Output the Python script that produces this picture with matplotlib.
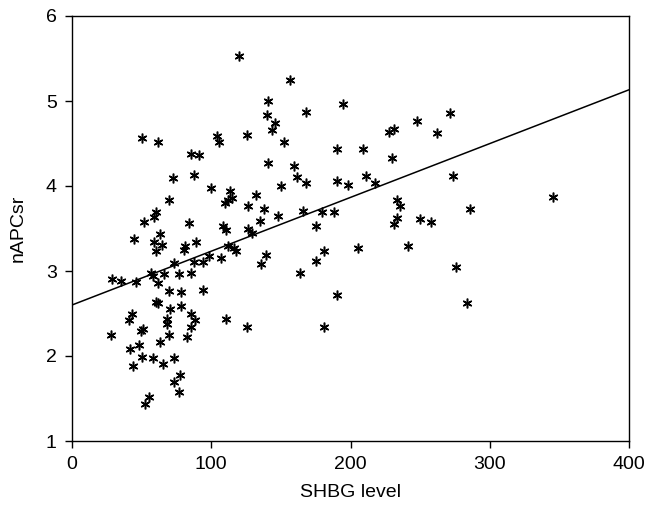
import matplotlib
matplotlib.use("Agg")
import matplotlib.pyplot as plt
import numpy as np

shbg = [
    60.3, 80.6, 73.5, 87.4, 94.3, 98.6,
    28.7, 35.2, 46.2, 57.0, 57.9, 61.8, 65.8, 77.1, 85.5,
    69.4, 78.3, 94.3,
    60.5, 61.5, 70.1, 78.3,
    43.1, 41.2, 49.6, 51.2,
    68.2, 68.2, 69.4,
    85.7, 88.6, 85.5, 82.6,
    28.0, 41.9, 47.9, 63.4,
    50.3, 58.2, 65.1, 73.5, 43.8,
    73.0, 77.8, 77.1, 55.1, 52.2,
    50.3, 61.5, 85.5, 91.4, 72.3, 87.6, 99.6, 69.4,
    60.3, 58.7, 51.9, 84.2, 44.3, 63.4, 59.1, 64.6, 81.4, 89.3,
    119.9, 156.8, 141.0, 168.0, 194.4, 139.8, 146.0, 143.8,
    104.3, 105.6, 125.7, 152.0, 227.4, 231.5, 190.1, 209.2, 229.6,
    140.8, 159.2, 161.8, 168.0, 190.1, 198.4, 211.1, 217.8,
    113.5, 109.9, 112.2, 114.7, 131.9, 150.1,
    126.6, 137.9, 135.0, 147.9, 166.1, 179.7, 188.4, 175.2,
    108.2, 110.6, 126.6, 129.5,
    112.2, 116.0, 117.8, 106.8, 139.1, 135.7, 181.2, 205.2, 175.0, 163.9,
    190.1, 110.6, 125.7, 181.2,
    271.7, 247.5, 261.9, 273.8, 345.4, 233.6, 235.6, 285.8, 233.6, 231.5,
    249.7, 257.6, 241.5, 276.0, 283.9,
]
napcsr = [
    3.23, 3.25, 3.10, 3.11, 3.11, 3.18,
    2.91, 2.88, 2.87, 2.98, 2.94, 2.86, 2.97, 2.96, 2.98,
    2.77, 2.75, 2.78,
    2.64, 2.62, 2.55, 2.59,
    2.50, 2.42, 2.29, 2.32,
    2.43, 2.38, 2.25,
    2.49, 2.42, 2.34, 2.22,
    2.25, 2.08, 2.13, 2.16,
    1.99, 1.98, 1.91, 1.98, 1.88,
    1.70, 1.78, 1.58, 1.52, 1.44,
    4.57, 4.52, 4.38, 4.36, 4.09, 4.13, 3.98, 3.83,
    3.69, 3.63, 3.58, 3.56, 3.38, 3.44, 3.34, 3.31, 3.29, 3.34,
    5.53, 5.25, 5.00, 4.87, 4.97, 4.84, 4.74, 4.66,
    4.59, 4.52, 4.60, 4.52, 4.64, 4.67, 4.44, 4.44, 4.33,
    4.27, 4.23, 4.11, 4.04, 4.06, 4.01, 4.12, 4.04,
    3.94, 3.80, 3.84, 3.86, 3.90, 4.00,
    3.76, 3.73, 3.59, 3.65, 3.71, 3.70, 3.70, 3.53,
    3.53, 3.48, 3.50, 3.45,
    3.29, 3.27, 3.23, 3.15, 3.19, 3.08, 3.24, 3.27, 3.12, 2.98,
    2.72, 2.44, 2.34, 2.34,
    4.86, 4.76, 4.62, 4.12, 3.87, 3.83, 3.76, 3.73, 3.62, 3.55,
    3.61, 3.58, 3.30, 3.05, 2.62,
]

fit_intercept = 2.60
fit_slope = 0.00633
x_ticks = [0, 100, 200, 300, 400]
y_ticks = [1, 2, 3, 4, 5, 6]

plt.rcParams['font.family'] = ['Liberation Sans', 'DejaVu Sans']

fig = plt.figure(figsize=(6.45, 5.08), dpi=100)
ax = fig.add_axes([72/645, 1-441/508, (629-72)/645, (441-16)/508])

ax.plot(shbg, napcsr, linestyle='none', marker=(6, 2, 0), markersize=7,
        markeredgewidth=1.1, color='black')
xl = np.array([0, 400])
ax.plot(xl, fit_intercept + fit_slope * xl, color='black', linewidth=1.1)

ax.set_xlim(0, 400)
ax.set_ylim(1, 6)
ax.set_xticks(x_ticks)
ax.set_yticks(y_ticks)
ax.tick_params(direction='out', length=5, width=1, labelsize=14, pad=6)
for s in ax.spines.values():
    s.set_linewidth(1)
    s.set_color('black')
ax.set_xlabel('SHBG level', fontsize=14, labelpad=8)
ax.set_ylabel('nAPCsr', fontsize=14, labelpad=14)

fig.savefig('out.png', dpi=100)
